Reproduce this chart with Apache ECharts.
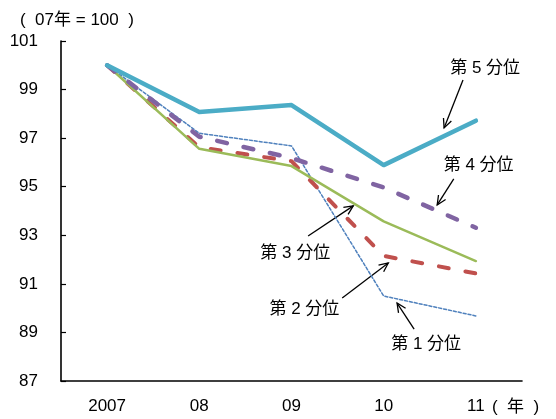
<!DOCTYPE html>
<html>
<head>
<meta charset="utf-8">
<script src="https://cdn.jsdelivr.net/npm/echarts@6/dist/echarts.min.js"></script>
<style>
  html, body { margin: 0; padding: 0; background: #fff; }
  #chart { width: 556px; height: 419px; }
</style>
</head>
<body>
<div id="chart"></div>
<script>
// Categories (years) and index values per income quintile (2007 = 100)
const years = ['2007', '08', '09', '10', '11'];
const q1 = [100, 97.20, 96.68, 90.50, 89.68];
const q2 = [100, 96.62, 96.05, 92.15, 91.43];
const q3 = [100, 96.56, 95.85, 93.57, 91.94];
const q4 = [100, 97.06, 96.18, 94.97, 93.31];
const q5 = [100, 98.08, 98.36, 95.89, 97.72];
const seriesNames = ['第 1 分位', '第 2 分位', '第 3 分位', '第 4 分位', '第 5 分位'];

// Value axis range
const yMin = 87, yMax = 101, yStep = 2;

// Callouts: label centre, arrow tail and arrow head, in (category index, value) space
const notes = [
  { text: '第 5 分位', at: [4.10, 99.89], from: [3.86, 99.39], to: [3.655, 97.42] },
  { text: '第 4 分位', at: [4.03, 95.89], from: [3.76, 95.32], to: [3.58, 94.25] },
  { text: '第 3 分位', at: [2.04, 92.27], from: [2.18, 92.97], to: [2.67, 94.21] },
  { text: '第 2 分位', at: [2.14, 89.96], from: [2.55, 90.42], to: [3.05, 91.86] },
  { text: '第 1 分位', at: [3.46, 88.52], from: [3.33, 89.14], to: [3.145, 90.21] }
];

const FONT = "'Liberation Sans', 'Noto Sans CJK JP', sans-serif";
const chart = echarts.init(document.getElementById('chart'), null, { renderer: 'canvas' });

function line(name, data, color, width, type) {
  return {
    name, type: 'line', data, showSymbol: false, symbol: 'none',
    lineStyle: { color, width, type, cap: 'round', join: 'round' },
    animation: false
  };
}

chart.setOption({
  animation: false,
  backgroundColor: '#fff',
  grid: { left: 61, right: 34, top: 41, bottom: 38, containLabel: false },
  xAxis: {
    type: 'category', data: years, boundaryGap: true,
    axisLine: { lineStyle: { color: '#000', width: 1.6 } },
    axisTick: { show: false },
    axisLabel: { color: '#000', fontSize: 17, fontFamily: FONT, margin: 17 },
    splitLine: { show: false }
  },
  yAxis: {
    type: 'value', min: yMin, max: yMax, interval: yStep,
    axisLine: { show: true, lineStyle: { color: '#000', width: 1.6 } },
    axisTick: { show: true, inside: true, length: 5, lineStyle: { color: '#000', width: 1.2 } },
    axisLabel: { color: '#000', fontSize: 17, fontFamily: FONT, margin: 23 },
    splitLine: { show: false }
  },
  series: [
    line(seriesNames[0], q1, '#4F81BD', 1.5, [3, 2]),
    line(seriesNames[1], q2, '#C0504D', 4, [10, 17]),
    line(seriesNames[2], q3, '#9BBB59', 2.5, 'solid'),
    line(seriesNames[3], q4, '#8064A2', 4.5, [10, 17]),
    line(seriesNames[4], q5, '#4BACC6', 4.5, 'solid')
  ]
});

// Map (fractional category index, value) to pixels
function toPx(p) {
  const a = chart.convertToPixel({ gridIndex: 0 }, [0, p[1]]);
  const b = chart.convertToPixel({ gridIndex: 0 }, [1, p[1]]);
  return [a[0] + (b[0] - a[0]) * p[0], a[1]];
}

const graphics = [];
const txtStyle = { fill: '#000', font: '17px ' + FONT };
notes.forEach(n => {
  const c = toPx(n.at), t = toPx(n.from), h = toPx(n.to);
  const dx = h[0] - t[0], dy = h[1] - t[1];
  const len = Math.hypot(dx, dy), ux = dx / len, uy = dy / len;
  const L = 10, ang = 25 * Math.PI / 180;
  const wing = s => [
    h[0] - L * (ux * Math.cos(ang) - s * uy * Math.sin(ang)),
    h[1] - L * (uy * Math.cos(ang) + s * ux * Math.sin(ang))
  ];
  graphics.push({
    type: 'line', silent: true,
    shape: { x1: t[0], y1: t[1], x2: h[0], y2: h[1] },
    style: { stroke: '#000', lineWidth: 1.3 }
  });
  graphics.push({
    type: 'polyline', silent: true,
    shape: { points: [wing(1), h, wing(-1)] },
    style: { stroke: '#000', lineWidth: 1.3, fill: null }
  });
  graphics.push({
    type: 'text', silent: true, x: c[0], y: c[1],
    style: Object.assign({ text: n.text, align: 'center', verticalAlign: 'middle' }, txtStyle)
  });
});

// Unit captions
graphics.push({
  type: 'text', silent: true, x: 20, y: 20,
  style: Object.assign({ text: '(  07年 = 100  )', align: 'left', verticalAlign: 'middle' }, txtStyle)
});
const last = chart.convertToPixel({ gridIndex: 0 }, [years.length - 1, yMin]);
graphics.push({
  type: 'text', silent: true, x: last[0] + 16, y: last[1] + 26,
  style: Object.assign({ text: '(  年  )', align: 'left', verticalAlign: 'middle' }, txtStyle)
});

chart.setOption({ graphic: graphics });
</script>
</body>
</html>
